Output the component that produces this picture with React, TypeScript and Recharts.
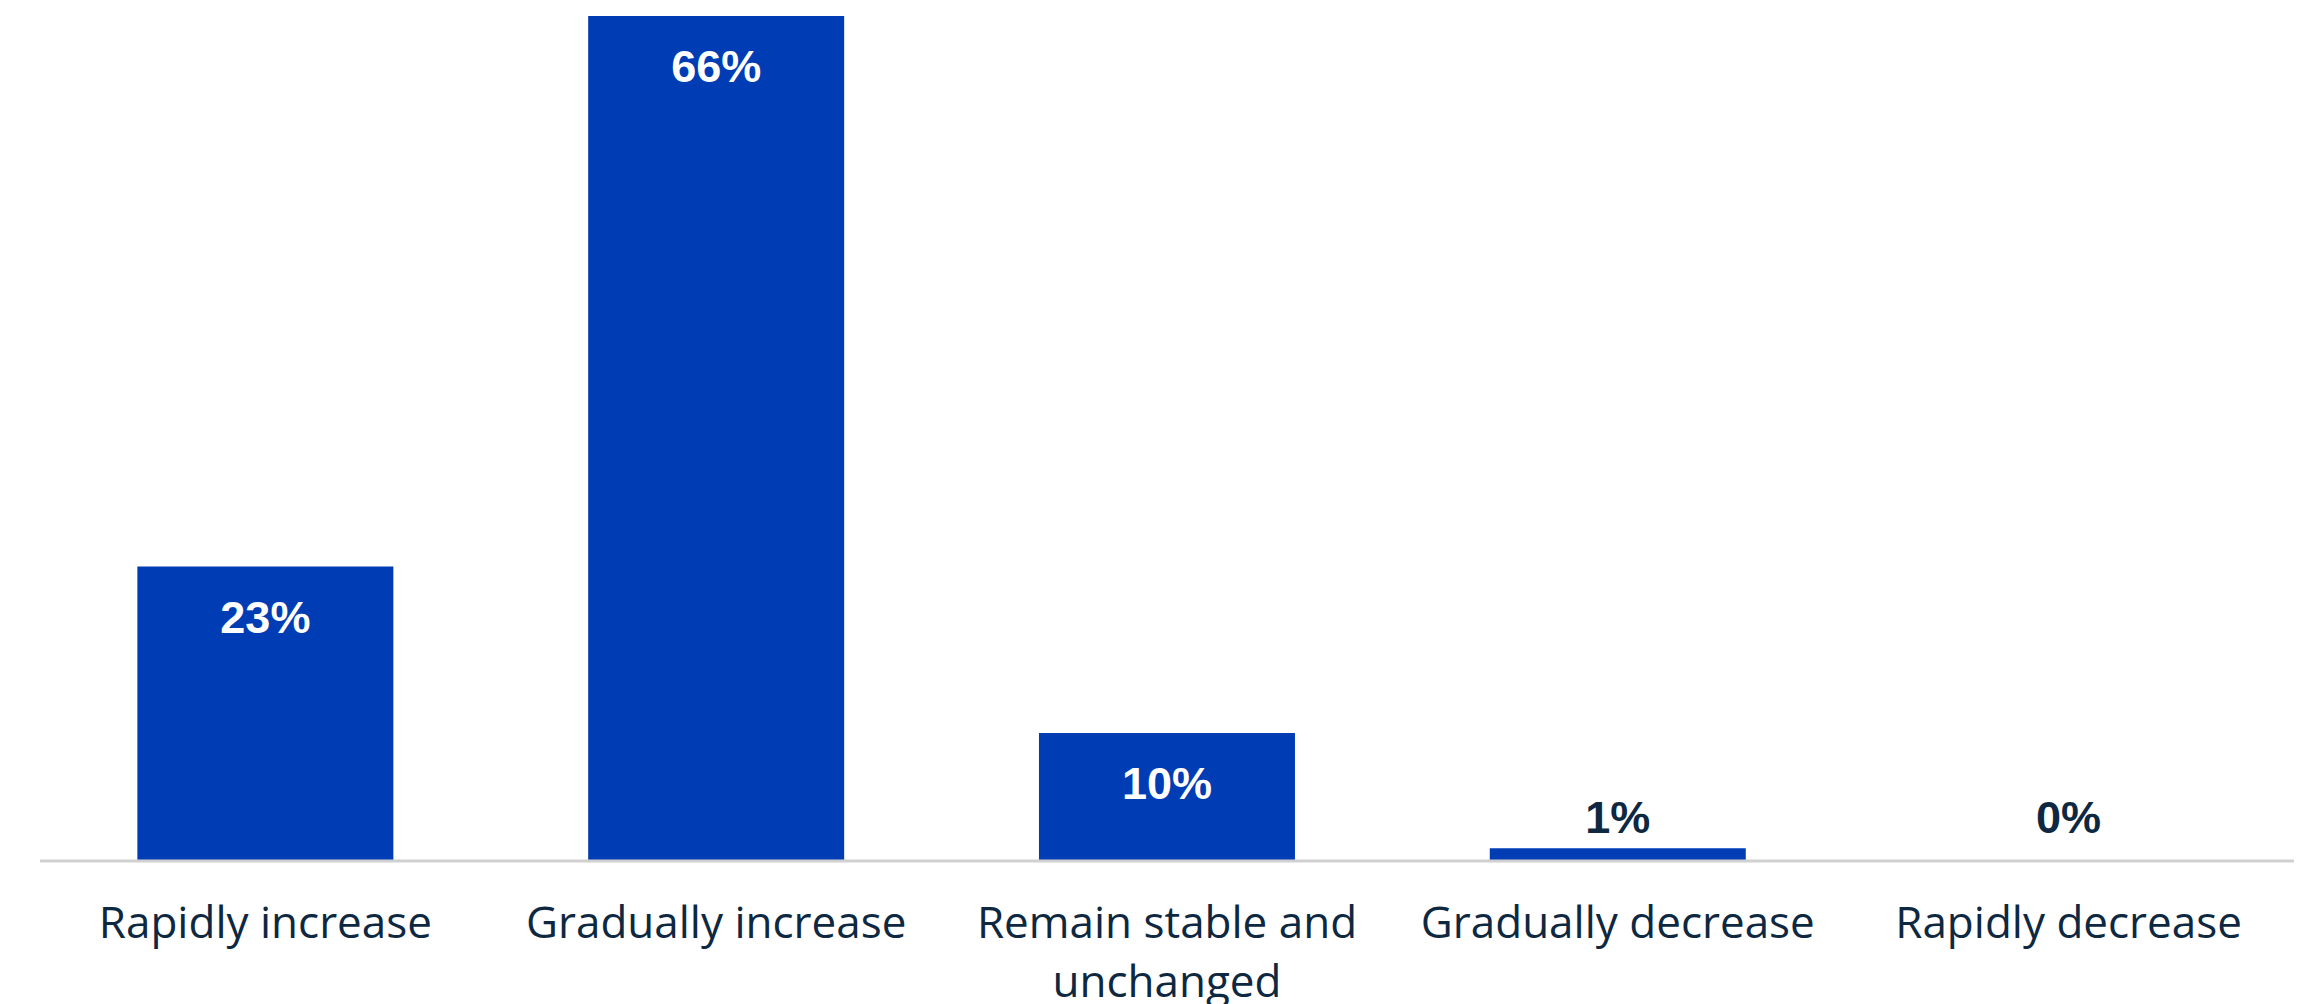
import { BarChart, Bar, XAxis, YAxis, LabelList, Rectangle } from 'recharts';

const categories = [
  'Rapidly increase',
  'Gradually increase',
  'Remain stable and unchanged',
  'Gradually decrease',
  'Rapidly decrease',
];
const shares = [23, 66, 10, 1, 0];

const data = categories.map((name, i) => ({ name, share: shares[i] }));

const BAR_COLOR = '#003DB4';
const NAVY = '#0E2841';
const TICK_FONT = '44px "Open Sans", sans-serif';

let ctx: CanvasRenderingContext2D | null = null;
const measure = (s: string) => {
  if (!ctx) ctx = document.createElement('canvas').getContext('2d');
  if (!ctx) return s.length * 22;
  ctx.font = TICK_FONT;
  return ctx.measureText(s).width;
};

// greedy word wrap, like the original category labels
const wrap = (label: string, maxWidth: number) => {
  const lines: string[] = [];
  let cur = '';
  label.split(' ').forEach((w) => {
    const next = cur ? cur + ' ' + w : w;
    if (cur && measure(next) > maxWidth) {
      lines.push(cur);
      cur = w;
    } else {
      cur = next;
    }
  });
  if (cur) lines.push(cur);
  return lines;
};

const CategoryTick = (props: any) => {
  const { x, y, payload } = props;
  const lines = wrap(String(payload.value), 440);
  return (
    <text
      x={x}
      y={y}
      textAnchor="middle"
      fill={NAVY}
      style={{ fontFamily: '"Open Sans", sans-serif', fontSize: 44 }}
    >
      {lines.map((l, i) => (
        <tspan key={i} x={x} y={y + 31 + i * 59}>
          {l}
        </tspan>
      ))}
    </text>
  );
};

const ShareLabel = (props: any) => {
  const { x, y, width, height, value } = props;
  const inside = value >= 5;
  const cx = Number(x) + Number(width) / 2;
  const baseline = inside ? Number(y) + 66 : Number(y) + Number(height) - 28;
  return (
    <text
      x={cx}
      y={baseline}
      textAnchor="middle"
      fill={inside ? '#ffffff' : NAVY}
      style={{ fontFamily: '"Liberation Sans", Arial, sans-serif', fontSize: 45, fontWeight: 700 }}
    >
      {`${value}%`}
    </text>
  );
};

const BarShape = (props: any) => {
  if (!props.payload || props.payload.share <= 0) return <g />;
  return <Rectangle {...props} />;
};

export default function App() {
  return (
    <div style={{ position: 'absolute', left: 0, top: 0, background: '#fff' }}>
      <BarChart
        width={2321}
        height={1004}
        data={data}
        margin={{ top: 16, right: 27, bottom: 0, left: 40 }}
        barCategoryGap="21.6%"
      >
        <XAxis
          dataKey="name"
          height={143}
          axisLine={{ stroke: '#D0D0D0', strokeWidth: 3 }}
          tickLine={false}
          tickSize={0}
          tickMargin={46}
          interval={0}
          tick={<CategoryTick />}
        />
        <YAxis hide domain={[0, 66]} />
        <Bar
          dataKey="share"
          fill={BAR_COLOR}
          minPointSize={1}
          shape={<BarShape />}
          isAnimationActive={false}
        >
          <LabelList dataKey="share" content={<ShareLabel />} />
        </Bar>
      </BarChart>
    </div>
  );
}
